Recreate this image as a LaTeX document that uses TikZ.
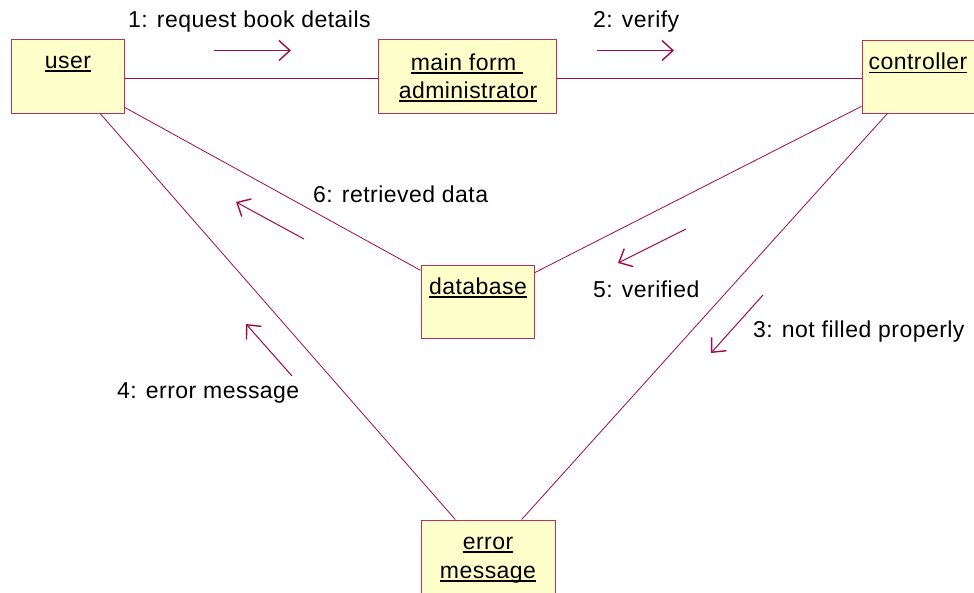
\documentclass[tikz,border=0pt]{standalone}
\usepackage{fontspec}
\setmainfont[LetterSpace=2]{Liberation Sans}
\usetikzlibrary{arrows.meta}
\definecolor{lnk}{RGB}{160,10,70}
\definecolor{bord}{RGB}{185,50,95}
\definecolor{boxfill}{RGB}{255,255,204}
\newcommand\myul[1]{{\setbox0\hbox{#1}\rlap{\rule[-3.6pt]{\wd0}{1.3pt}}\box0}}
\tikzset{
  objbox/.style={draw=bord, line width=1pt, fill=boxfill, rectangle, inner sep=0pt},
  objtxt/.style={anchor=base, inner sep=0pt, font=\fontsize{23}{28}\selectfont},
  msgtxt/.style={anchor=base west, inner sep=0pt, font=\fontsize{23}{28}\selectfont},
  link/.style={draw=lnk, line width=0.8pt},
  msg/.style={draw=lnk, line width=1pt, -{Straight Barb[length=11pt,width=20pt,line width=1.4pt]}},
}
\begin{document}
\begin{tikzpicture}[x=1pt,y=-1pt]
\clip (0,0) rectangle (974,592);
\fill[white] (0,0) rectangle (974,592);
% boxes
\node[objbox, minimum width=113pt, minimum height=74pt] (user) at (67.5,76) {};
\node[objbox, minimum width=178pt, minimum height=74pt] (main) at (467,76) {};
\node[objbox, minimum width=117pt, minimum height=73pt] (ctrl) at (920.5,76.5) {};
\node[objbox, minimum width=113pt, minimum height=73pt] (db) at (477.5,301.5) {};
\node[objbox, minimum width=134pt, minimum height=74pt] (err) at (488,557) {};
% links
\draw[link] ([yshift=-2pt]user.east) -- ([yshift=-2pt]main.west);
\draw[link] ([yshift=-2pt]main.east) -- ([yshift=-1.5pt]ctrl.west);
\draw[link] (user) -- (db);
\draw[link] (ctrl) -- (db);
\draw[link] (user) -- (err);
\draw[link] (ctrl) -- (err);
% box texts
\node[objtxt] (tuser) at (68,68) {\myul{user}};
\node[objtxt] (tmain1) at (467,70) {\myul{main form\ }};
\node[objtxt] (tmain2) at (468,98) {\myul{administrator}};
\node[objtxt] (tctrl) at (918,69.5) {\myul{controller}};
\node[objtxt] (tdb) at (478,294) {\myul{database}};
\node[objtxt] (terr1) at (488,549) {\myul{error}};
\node[objtxt] (terr2) at (488,578) {\myul{message}};
% message arrows
\coordinate (m1a) at (214,50.5); \coordinate (m1b) at (291,50.5);
\coordinate (m2a) at (597,50.5); \coordinate (m2b) at (674,50.5);
\coordinate (m6a) at (304,239); \coordinate (m6b) at (236,202);
\coordinate (m5a) at (686,229); \coordinate (m5b) at (618,263);
\coordinate (m3a) at (763,295); \coordinate (m3b) at (711,353);
\coordinate (m4a) at (292,376); \coordinate (m4b) at (246,324);
\draw[msg] (m1a) -- (m1b);
\draw[msg] (m2a) -- (m2b);
\draw[msg] (m6a) -- (m6b);
\draw[msg] (m5a) -- (m5b);
\draw[msg] (m3a) -- (m3b);
\draw[msg] (m4a) -- (m4b);
% message labels
\node[msgtxt] (l1) at (128,27.5) {1: request book details};
\node[msgtxt] (l2) at (593,27.5) {2: verify};
\node[msgtxt] (l6) at (313,202) {6: retrieved data};
\node[msgtxt] (l5) at (593,297) {5: verified};
\node[msgtxt] (l3) at (753,337) {3: not filled properly};
\node[msgtxt] (l4) at (117,398) {4: error message};
\end{tikzpicture}
\end{document}
